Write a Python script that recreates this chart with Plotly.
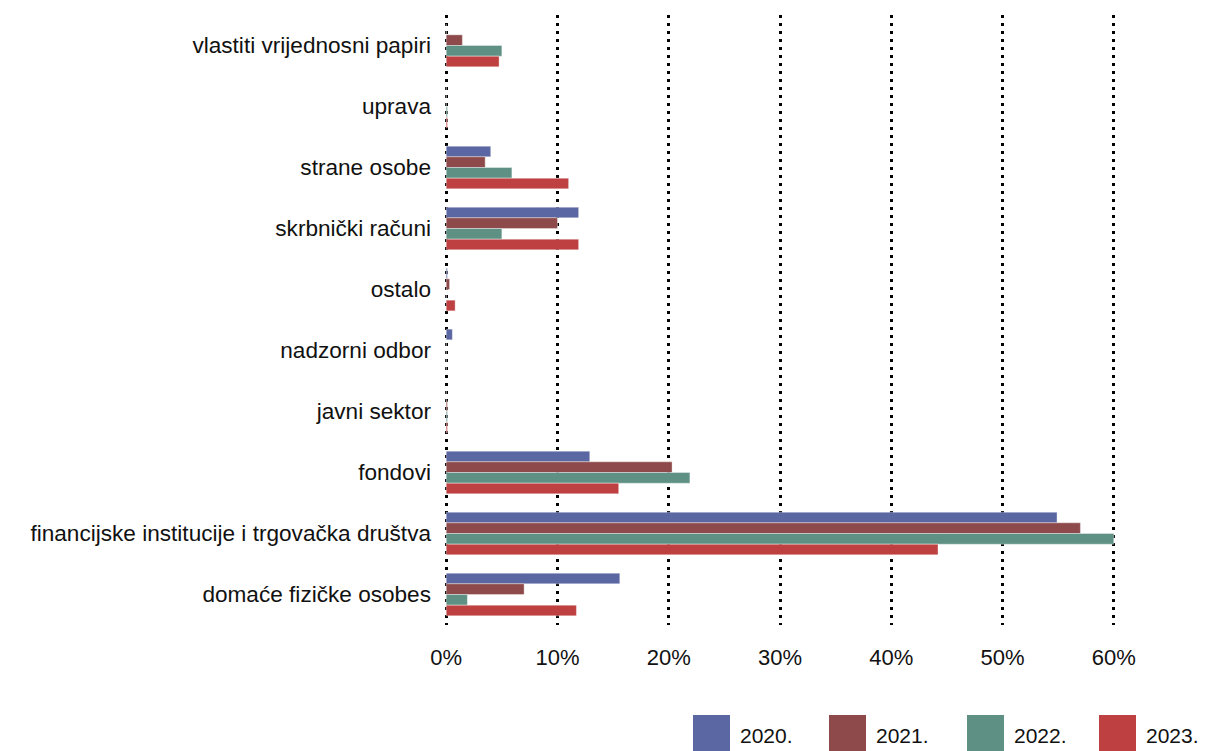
import plotly.graph_objects as go

categories = [
    "vlastiti vrijednosni papiri",
    "uprava",
    "strane osobe",
    "skrbnički računi",
    "ostalo",
    "nadzorni odbor",
    "javni sektor",
    "fondovi",
    "financijske institucije i trgovačka društva",
    "domaće fizičke osobes",
]
years = ["2020.", "2021.", "2022.", "2023."]
v2020 = [0.0, 0.0, 4.0, 11.9, 0.1, 0.55, 0.0, 12.9, 54.9, 15.6]
v2021 = [1.45, 0.0, 3.5, 10.0, 0.3, 0.0, 0.1, 20.3, 57.0, 7.0]
v2022 = [5.0, 0.1, 5.9, 5.0, 0.0, 0.0, 0.1, 21.9, 60.0, 1.9]
v2023 = [4.75, 0.1, 11.0, 11.9, 0.8, 0.0, 0.1, 15.5, 44.2, 11.7]
colors = ["#5b67a3", "#8e4a4a", "#5f9084", "#be4040"]
xticks = [0, 10, 20, 30, 40, 50, 60]
xticklabels = ["0%", "10%", "20%", "30%", "40%", "50%", "60%"]

FONT = "Liberation Sans, Arial, sans-serif"
FS = 22

fig = go.Figure()
for name, vals, col in zip(years, [v2020, v2021, v2022, v2023], colors):
    fig.add_trace(go.Bar(
        y=categories, x=vals, name=name, orientation="h",
        marker=dict(color=col, line=dict(color="rgba(255,255,255,0.6)", width=0.6)),
        showlegend=False,
    ))

OFF = 8  # page body margin
FW, FH = 1199, 743
L, T = 436, 7
PW, PH = 672, 610
R = FW - L - PW
B = FH - T - PH


def px(page_x):
    return (page_x - OFF - L) / PW


def py(page_y):
    return (T + PH - (page_y - OFF)) / PH


# custom legend (large swatches)
leg_x = [693, 829, 967, 1099]
for name, col, lx in zip(years, colors, leg_x):
    fig.add_shape(type="rect", xref="paper", yref="paper",
                  x0=px(lx), x1=px(lx + 37), y0=py(760), y1=py(715),
                  fillcolor=col, line=dict(width=0))
    fig.add_annotation(xref="paper", yref="paper", x=px(lx + 45), y=py(735),
                       text=name, showarrow=False, xanchor="left", yanchor="middle",
                       font=dict(family=FONT, size=FS - 1, color="#111"))

fig.update_layout(
    width=FW, height=FH,
    margin=dict(l=L, r=R, t=T, b=B, autoexpand=False),
    barmode="group", bargap=0.3, bargroupgap=0.0,
    plot_bgcolor="white", paper_bgcolor="white",
    font=dict(family=FONT, size=FS, color="#111"),
    xaxis=dict(range=[-0.2, 60.2], tickvals=xticks, ticktext=xticklabels,
               showgrid=True, gridcolor="black", gridwidth=2.5, griddash="2.5px,5.5px",
               zeroline=False, showline=False, ticks="", ticklabelstandoff=17,
               tickfont=dict(family=FONT, size=FS, color="#111")),
    yaxis=dict(autorange="reversed", showgrid=False, zeroline=False, showline=False,
               ticks="", ticklabelstandoff=12,
               tickfont=dict(family=FONT, size=22.6, color="#111")),
)

fig.write_html("out.html")
